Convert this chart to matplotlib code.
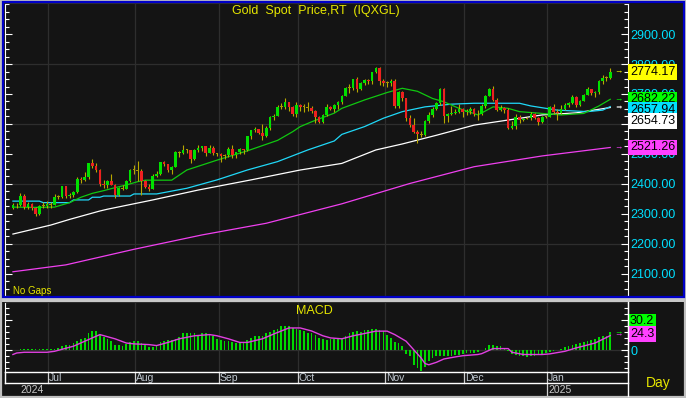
import matplotlib
matplotlib.use("Agg")
import matplotlib.pyplot as plt
from matplotlib.patches import Rectangle
from matplotlib.ticker import MultipleLocator
import numpy as np
import pandas as pd

plt.rcParams['font.family'] = ['Liberation Sans', 'DejaVu Sans']

# daily bars, every weekday 18 Jun 2024 - 24 Jan 2025 ("No Gaps")
dates = pd.bdate_range("2024-06-18", "2025-01-24")

opens = [
    2318, 2330, 2328, 2360, 2322, 2334, 2319, 2298, 2327,
    2326, 2331, 2330, 2356, 2356, 2392, 2359, 2364, 2371, 2415, 2411, 2422, 2469, 2458, 2445, 2400, 2396, 2409, 2397, 2364, 2386, 2384, 2410,
    2447, 2446, 2443, 2410, 2390, 2383, 2427, 2431, 2472, 2465, 2447, 2456, 2507, 2504, 2513, 2512, 2484, 2512, 2518, 2525, 2504, 2521,
    2503, 2500, 2493, 2495, 2517, 2497, 2506, 2516, 2512, 2558, 2578, 2582, 2569, 2559, 2587, 2622, 2628, 2657, 2657, 2672, 2658,
    2634, 2663, 2657, 2656, 2653, 2644, 2622, 2608, 2630, 2657, 2649, 2662, 2674, 2693, 2721, 2720, 2749, 2715, 2736, 2747, 2743, 2774, 2788,
    2743, 2736, 2736, 2743, 2659, 2706, 2685, 2619, 2598, 2573, 2565, 2562, 2611, 2631, 2651, 2670, 2716, 2626, 2633, 2637, 2641,
    2650, 2639, 2643, 2650, 2632, 2633, 2660, 2694, 2718, 2680, 2648, 2652, 2646, 2586, 2594, 2622, 2612, 2618, 2619, 2634, 2621, 2606,
    2624, 2624, 2658, 2640, 2636, 2649, 2662, 2670, 2690, 2663, 2677, 2697, 2715, 2703, 2708, 2745, 2755, 2754,
]
highs = [
    2335, 2336, 2368, 2367, 2338, 2336, 2323, 2330, 2338,
    2343, 2338, 2365, 2362, 2393, 2393, 2368, 2375, 2424, 2424, 2440, 2470, 2483, 2470, 2449, 2412, 2412, 2431, 2398, 2390, 2395, 2413, 2451,
    2463, 2477, 2450, 2414, 2400, 2431, 2442, 2474, 2477, 2466, 2461, 2509, 2510, 2531, 2515, 2513, 2516, 2528, 2527, 2526, 2529, 2525,
    2504, 2503, 2500, 2523, 2529, 2507, 2518, 2517, 2560, 2581, 2590, 2584, 2600, 2593, 2625, 2634, 2664, 2670, 2685, 2674, 2659,
    2673, 2667, 2666, 2674, 2661, 2645, 2626, 2634, 2668, 2659, 2666, 2676, 2696, 2722, 2732, 2749, 2758, 2740, 2749, 2749, 2775, 2790, 2790,
    2749, 2745, 2750, 2749, 2711, 2709, 2685, 2629, 2619, 2579, 2577, 2614, 2639, 2655, 2673, 2721, 2721, 2637, 2659, 2651, 2665,
    2652, 2651, 2657, 2654, 2647, 2668, 2697, 2721, 2726, 2685, 2664, 2655, 2652, 2611, 2632, 2630, 2621, 2622, 2639, 2636, 2624, 2626,
    2627, 2660, 2665, 2649, 2663, 2670, 2673, 2697, 2693, 2679, 2700, 2725, 2717, 2711, 2746, 2763, 2759, 2786,
]
lows = [
    2316, 2318, 2326, 2316, 2316, 2313, 2293, 2296, 2319,
    2319, 2319, 2328, 2350, 2353, 2353, 2351, 2357, 2370, 2404, 2409, 2415, 2454, 2439, 2394, 2385, 2385, 2395, 2353, 2358, 2379, 2381, 2405,
    2431, 2410, 2364, 2385, 2377, 2382, 2421, 2430, 2461, 2440, 2431, 2455, 2491, 2500, 2502, 2470, 2481, 2507, 2509, 2494, 2502, 2496,
    2493, 2472, 2484, 2490, 2485, 2486, 2500, 2500, 2510, 2549, 2572, 2567, 2546, 2555, 2581, 2614, 2625, 2649, 2651, 2643, 2625,
    2624, 2643, 2641, 2642, 2636, 2604, 2603, 2604, 2628, 2647, 2641, 2651, 2665, 2692, 2704, 2712, 2708, 2713, 2730, 2732, 2732, 2769, 2730,
    2726, 2722, 2726, 2652, 2654, 2678, 2610, 2589, 2570, 2537, 2555, 2559, 2603, 2623, 2645, 2663, 2604, 2605, 2631, 2633, 2636,
    2622, 2630, 2634, 2625, 2614, 2630, 2654, 2692, 2676, 2643, 2643, 2637, 2583, 2583, 2584, 2604, 2609, 2615, 2614, 2616, 2597, 2603,
    2620, 2623, 2634, 2614, 2632, 2647, 2657, 2668, 2656, 2660, 2676, 2695, 2697, 2689, 2700, 2735, 2742, 2750,
]
closes = [
    2330, 2328, 2360, 2322, 2334, 2319, 2298, 2327, 2326,
    2331, 2330, 2356, 2356, 2392, 2359, 2364, 2371, 2415, 2411, 2422, 2469, 2458, 2445, 2400, 2396, 2409, 2397, 2364, 2386, 2384, 2410, 2447,
    2446, 2443, 2410, 2390, 2383, 2427, 2431, 2472, 2465, 2447, 2456, 2507, 2504, 2513, 2512, 2484, 2512, 2518, 2525, 2504, 2521, 2503,
    2500, 2493, 2495, 2517, 2497, 2506, 2516, 2512, 2558, 2578, 2582, 2569, 2559, 2587, 2622, 2628, 2657, 2657, 2672, 2658, 2634,
    2663, 2657, 2656, 2653, 2644, 2622, 2608, 2630, 2657, 2649, 2662, 2674, 2693, 2721, 2720, 2749, 2715, 2736, 2747, 2743, 2774, 2788, 2743,
    2736, 2736, 2743, 2659, 2706, 2685, 2619, 2598, 2573, 2565, 2562, 2611, 2631, 2651, 2670, 2716, 2626, 2633, 2637, 2641, 2650,
    2639, 2643, 2650, 2632, 2633, 2660, 2694, 2718, 2680, 2648, 2652, 2646, 2586, 2594, 2622, 2612, 2618, 2619, 2634, 2621, 2606, 2624,
    2624, 2658, 2640, 2636, 2649, 2662, 2670, 2690, 2663, 2677, 2697, 2715, 2703, 2708, 2745, 2755, 2754, 2774.17,
]

# moving averages at these bars
ma_green_bar = [0, 6, 11, 15, 18, 21, 24, 27, 30, 33, 35, 42, 46, 54, 62, 70, 74, 76, 79, 85, 87, 93, 99,
                103, 107, 111, 114, 118, 123, 127, 131, 134, 140, 145, 151, 155, 158]
ma_green = [2322, 2321, 2322, 2337, 2355, 2368, 2377, 2387, 2396, 2407, 2412, 2412, 2446, 2479, 2510, 2545,
            2574, 2591, 2607, 2636, 2652, 2680, 2705, 2719, 2709, 2685, 2674, 2652, 2630, 2657, 2652, 2641,
            2635, 2630, 2635, 2660, 2682.22]
ma_cyan_bar = [0, 7, 8, 15, 16, 20, 21, 23, 24, 31, 32, 38, 46, 54, 62, 70, 78, 85, 87, 93, 98, 103, 109,
               116, 122, 134, 137, 144, 152, 156, 158]
ma_cyan = [2342, 2342, 2337, 2337, 2346, 2346, 2355, 2355, 2359, 2359, 2366, 2366, 2385, 2413, 2446, 2474,
           2513, 2543, 2565, 2591, 2619, 2641, 2657, 2666, 2669, 2669, 2660, 2646, 2641, 2646, 2657.94]
ma_white_bar = [0, 10, 15, 23, 25, 37, 49, 63, 76, 87, 96, 103, 112, 122, 131, 140, 149, 158]
ma_white = [2232, 2262, 2281, 2309, 2315, 2346, 2379, 2413, 2446, 2468, 2513, 2533, 2562, 2596, 2613,
            2630, 2637, 2654.73]
ma_magenta_bar = [0, 14, 32, 50, 67, 87, 105, 122, 140, 158]
ma_magenta = [2106, 2129, 2181, 2229, 2268, 2333, 2401, 2457, 2493, 2521.26]

# MACD value for every bar, signal line read at these bars
macd = [
    1, 1, 1.5, 1.5, 1.5, 1.5, 1.5, 1.5, 1.5, 2, 2, 2, 4, 6.7, 9.4, 9.4, 12, 15, 18, 20.5,
    29, 32, 32, 26, 22, 19, 15, 9.4, 8, 6.7, 11, 13, 15, 16, 12, 9.4, 5.6, 5.6, 9.4, 13,
    15, 16.7, 16.7, 19, 22, 28, 28, 29, 28, 26, 28, 28, 26, 23, 19, 16.7, 15, 15, 13, 12,
    12, 13, 16.7, 20.5, 24, 24, 23, 28, 30, 33, 35.6, 40, 41, 41, 37, 35.6, 34, 32, 29, 28,
    26, 20.5, 18, 16.7, 18, 19, 19, 20.5, 24, 29, 30.5, 32, 30.5, 34, 33, 35.6, 36, 34, 32, 26,
    20.5, 13, 12, 6.7, -5.6, -9, -24, -29, -35, -27, -18, -13, -10, -9, -9, -9, -9, -7, -7, -5.6,
    -4.4, -4.4, -4.4, -3.3, 1, 3.9, 9.4, 9.4, 6.7, 6.7, 3.9, -1.7, -5.6, -7, -10, -10, -11, -10, -9, -7,
    -5.6, -4.4, -3.3, -1.7, 1, 2, 5.6, 6.7, 9.4, 11, 12, 13, 15, 16.7, 19, 22, 24, 23, 30.2,
]
signal_bar = [0, 1, 3, 9, 11, 16, 21, 23, 27, 30, 32, 36, 38, 41, 44, 48, 52, 54, 57, 60, 62, 66, 69, 73,
              76, 79, 82, 84, 87, 90, 93, 96, 99, 101, 104, 106, 108, 109, 110, 112, 114, 117, 119, 123,
              124, 127, 131, 132, 135, 140, 142, 146, 149, 154, 158]
signal = [-7, -4.5, -3.3, -3.3, -1.7, 6.7, 20.5, 26, 19, 12, 10.6, 9.4, 7.8, 13, 19, 24, 26, 24, 19, 13,
          13, 19, 27, 37, 37, 32, 24, 20.5, 19, 24, 27.8, 31.7, 31.7, 26, 15, 1, -13, -22, -24, -20,
          -14.4, -11, -9, -7, -5.6, 2.8, 2.8, -3.3, -7, -7, -6, -1.7, 3.9, 12, 24.3]

price_ticks = [2100, 2200, 2300, 2400, 2500, 2600, 2700, 2800, 2900]
price_grid = [2200, 2400, 2600, 2800]

n = len(closes)
assert len(dates) == n == len(opens) == len(highs) == len(lows) == len(macd)
x = np.arange(n)
o = np.array(opens, float)
h = np.array(highs, float)
l = np.array(lows, float)
c = np.array(closes, float)

BG = '#141414'
GRID = '#2e2e2e'
YELLOW = '#e6e600'
CYAN = '#00e0ff'
GREEN = '#00e000'
RED = '#ee2020'
OLIVE = '#a89800'
MAG = '#ff40ff'
LGREEN = '#00ff00'

W, H = 686, 398


def box(x0, y0, x1, y1):
    return [x0 / W, 1 - y1 / H, (x1 - x0) / W, (y1 - y0) / H]


fig = plt.figure(figsize=(W / 100, H / 100), dpi=100, facecolor=BG)
ax = fig.add_axes(box(5, 3, 628, 296), facecolor=BG)
mx = fig.add_axes(box(5, 302, 628, 372), facecolor=BG, sharex=ax)
ax.set_xlim(-2.1, 162.7)

month_idx = [i for i in range(1, n) if dates[i].month != dates[i - 1].month]
grid_x = [i + 0.4 for i in month_idx]

# price panel
for gx in grid_x:
    ax.axvline(gx, color=GRID, lw=0.9, zorder=1)
for gy in price_grid:
    ax.axhline(gy, color=GRID, lw=0.9, zorder=1)

ax.plot(ma_magenta_bar, ma_magenta, color='#f040f0', lw=0.9, zorder=2)
ax.plot(ma_white_bar, ma_white, color='white', lw=0.9, zorder=2)
ax.plot(ma_cyan_bar, ma_cyan, color='#20d8f8', lw=0.9, zorder=2)
ax.plot(ma_green_bar, ma_green, color='#10c810', lw=0.9, zorder=2)

body_col = []
for oo, cc in zip(o, c):
    if abs(cc - oo) <= 3:
        body_col.append(OLIVE)
    elif cc > oo:
        body_col.append(GREEN)
    else:
        body_col.append(RED)
ax.vlines(x, l, h, colors='#b8a800', lw=0.8, zorder=3)
ax.bar(x, np.maximum(np.abs(c - o), 2.5), bottom=np.minimum(o, c), width=0.7,
       color=body_col, linewidth=0, zorder=4)

ax.set_ylim(2025, 3004)
ax.set_yticks(price_ticks)
ax.set_yticklabels([f'{v:.2f}' for v in price_ticks])
ax.yaxis.set_minor_locator(MultipleLocator(25))

# macd panel
for gx in grid_x:
    mx.axvline(gx, color=GRID, lw=0.9, zorder=1)
mx.axhline(0, color=GRID, lw=0.9, zorder=1)
mx.bar(x, macd, width=0.45, color='#00d800', linewidth=0, zorder=2)
mx.plot(signal_bar, signal, color='#e040e0', lw=1.0, zorder=3)
mx.set_ylim(-36, 80)
mx.set_yticks([0, 50])
mx.set_yticklabels(['0', '50'])
mx.yaxis.set_minor_locator(MultipleLocator(10))

for a in (ax, mx):
    a.tick_params(axis='y', which='major', direction='in', length=5, width=0.8, color='white',
                  labelcolor=CYAN, labelsize=9, pad=2, left=True, right=True,
                  labelleft=False, labelright=True)
    a.tick_params(axis='y', which='minor', direction='in', length=3, width=0.8, color='white',
                  left=True, right=True)
    a.tick_params(axis='x', which='both', bottom=False, top=False, labelbottom=False)
    a.spines['left'].set_color('white')
    a.spines['right'].set_color('white')
    a.spines['top'].set_color(GRID)
    a.spines['bottom'].set_visible(False)

# last-value tags on the right
tag_box = dict(boxstyle='square,pad=0.14', ec='none')
tags = [(c[-1], '#ffff00', '#ffff00'), (ma_green[-1], LGREEN, LGREEN),
        (ma_cyan[-1], CYAN, '#ffffff'), (ma_white[-1], '#ffffff', '#ffffff'),
        (ma_magenta[-1], MAG, MAG)]
prev = None
for val, fc, arrow_c in tags:
    pos = val if prev is None else min(val, prev - 36)
    prev = pos
    ax.text(1.003, pos, f'{val:.2f}', transform=ax.get_yaxis_transform(), ha='left', va='center',
            fontsize=9, color='black', clip_on=False, zorder=20, bbox=dict(tag_box, fc=fc))
    ax.text(0.984, val, '→', transform=ax.get_yaxis_transform(), ha='center', va='center',
            fontsize=6, color=arrow_c, clip_on=False, zorder=20)

mx.text(1.003, macd[-1] + 17.5, f'{macd[-1]:.1f}', transform=mx.get_yaxis_transform(), ha='left',
        va='center', fontsize=9, color='black', clip_on=False, zorder=20, bbox=dict(tag_box, fc=LGREEN))
mx.text(1.003, signal[-1] + 3, f'{signal[-1]:.1f}', transform=mx.get_yaxis_transform(), ha='left',
        va='center', fontsize=9, color='black', clip_on=False, zorder=20, bbox=dict(tag_box, fc=MAG))
mx.text(0.985, 29, '→', transform=mx.get_yaxis_transform(), ha='center', va='center',
        fontsize=6, color=LGREEN, clip_on=False, zorder=20)
mx.text(0.985, 25, '→', transform=mx.get_yaxis_transform(), ha='center', va='center',
        fontsize=6, color=MAG, clip_on=False, zorder=20)

# date strip under the macd panel
tr = mx.get_xaxis_transform()
for i in month_idx:
    bottom = -0.343 if dates[i].month == 1 else -0.157
    mx.plot([i + 0.4, i + 0.4], [0, bottom], transform=tr, color='#d0d0d0', lw=0.9, clip_on=False)
    mx.text(i + 0.6, -0.085, dates[i].strftime('%b'), transform=tr, ha='left', va='center',
            fontsize=7.5, color='#c0c8d0', clip_on=False)
    if dates[i].month == 1:
        mx.text(i + 0.6, -0.26, str(dates[i].year), transform=tr, ha='left', va='center',
                fontsize=7.5, color='#c8c8c8', clip_on=False)
mx.text(2.1, -0.26, str(dates[0].year), transform=tr, ha='left', va='center',
        fontsize=7.5, color='#c8c8c8', clip_on=False)

# frame, separators and captions in pixel space
ov = fig.add_axes([0, 0, 1, 1], zorder=10)
ov.set_xlim(0, W)
ov.set_ylim(H, 0)
ov.axis('off')
ov.patch.set_alpha(0)
ov.add_patch(Rectangle((0, 296.5), W, 5, fc='#c8c8c8', ec='none'))
ov.add_patch(Rectangle((0.8, 0.8), W - 1.6, H - 1.6, fill=False, ec='#c0c0c0', lw=1.6))
ov.add_patch(Rectangle((2.6, 2.2), 681, 294.3, fill=False, ec='#0000c8', lw=1.6))
ov.plot([5, 628], [372, 372], color='white', lw=1)
ov.plot([5, 628], [383, 383], color='white', lw=1)
ov.plot([628, 628], [302, 396], color='white', lw=1)
ov.plot([5, 5], [372, 383], color='white', lw=1)

ov.text(315.5, 11, 'Gold  Spot  Price,RT  (IQXGL)', color=YELLOW, fontsize=9, ha='center', va='center')
ov.text(13, 291, 'No Gaps', color=YELLOW, fontsize=7, ha='left', va='center')
ov.text(314, 311, 'MACD', color=YELLOW, fontsize=9, ha='center', va='center')
ov.text(658, 383, 'Day', color=YELLOW, fontsize=10, ha='center', va='center')

fig.savefig('out.png', dpi=100, facecolor=BG)
